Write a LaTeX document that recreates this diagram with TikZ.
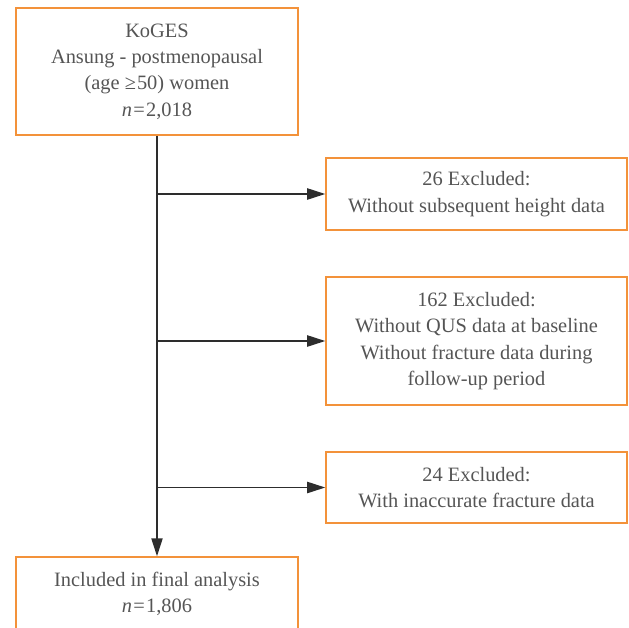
\documentclass[tikz,border=0pt]{standalone}
\usepackage{fontspec}
\setmainfont{Liberation Serif}
\usetikzlibrary{arrows.meta}
\usepackage{xcolor}
\definecolor{boxorange}{RGB}{243,146,58}
\definecolor{txtgray}{RGB}{85,85,85}
\definecolor{linegray}{RGB}{45,45,45}

\begin{document}
\begin{tikzpicture}[x=0.5pt,y=-0.5pt,>={Triangle[length=9pt,width=5.6pt]},
  font=\fontsize{10.2}{13.2}\selectfont,
  flowbox/.style={draw=boxorange,line width=0.75pt,text=txtgray,align=center,inner sep=0pt},
  flowline/.style={draw=linegray,line width=0.75pt}]
\useasboundingbox (0,0) rectangle (629,628);
% main column
\node[flowbox,minimum width=141pt,minimum height=63.5pt] (cohort) at (157,71.5)
  {KoGES\\Ansung - postmenopausal\\(age ≥\kern0.5pt50) women\\\textit{n}\kern0.6pt=\kern0.6pt2,018};
\node[flowbox,minimum width=141pt,minimum height=37pt] (final) at (157,594)
  {Included in final analysis\\\textit{n}\kern0.6pt=\kern0.6pt1,806};
% exclusions
\node[flowbox,minimum width=150.5pt,minimum height=36pt] (excla) at (476.5,194)
  {26 Excluded:\\Without subsequent height data};
\node[flowbox,minimum width=150.5pt,minimum height=64pt] (exclb) at (476.5,341)
  {162 Excluded:\\Without QUS data at baseline\\Without fracture data during\\follow-up period};
\node[flowbox,minimum width=150.5pt,minimum height=35.5pt] (exclc) at (476.5,487.5)
  {24 Excluded:\\With inaccurate fracture data};
\draw[flowline,->] (cohort.south) -- (final.north);
\draw[flowline,->] (cohort.south |- excla.west) -- (excla.west);
\draw[flowline,->] (cohort.south |- exclb.west) -- (exclb.west);
\draw[flowline,->] (cohort.south |- exclc.west) -- (exclc.west);
\end{tikzpicture}
\end{document}
